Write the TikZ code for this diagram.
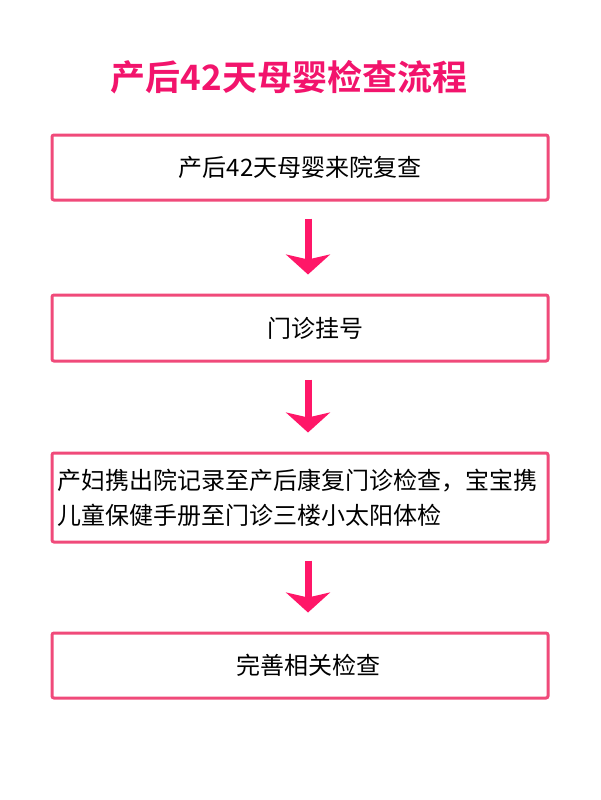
\documentclass[tikz,border=0pt]{standalone}
\usepackage{fontspec}
\setmainfont{Noto Sans CJK SC}
\newfontfamily\cjkbold{Noto Sans CJK SC Bold}
\usetikzlibrary{arrows.meta}
\definecolor{boxpink}{HTML}{F04A7A}
\definecolor{arrpink}{HTML}{FF1768}
\definecolor{titlepink}{HTML}{F2146C}
\begin{document}
\begin{tikzpicture}[x=1pt,y=-1pt,
  stepbox/.style={draw=boxpink,line width=3pt,rounded corners=2pt,minimum width=496pt,inner sep=0pt,font=\fontsize{24}{35}\selectfont,text=black},
  flowarrow/.style={draw=arrpink,line width=7pt,-{Stealth[length=20pt,width=44pt,inset=5pt]},shorten <=17pt,shorten >=19pt}]
\useasboundingbox (0,0) rectangle (600,800);
\node[text=titlepink,font=\cjkbold\fontsize{35}{40}\selectfont] (title) at (289,77) {产后42天母婴检查流程};
\node[stepbox,minimum height=65pt] (b1) at (300,167.5) {产后42天母婴来院复查};
\node[stepbox,minimum height=66pt] (b2) at (300,328) {\hspace*{30pt}门诊挂号};
\node[stepbox,minimum height=89pt,align=left,text width=486pt] (b3) at (300,497.5) {产妇携出院记录至产后康复门诊检查，宝宝携\\儿童保健手册至门诊三楼小太阳体检};
\node[stepbox,minimum height=65pt] (b4) at (300,665.5) {\hspace*{16pt}完善相关检查};
\foreach \a/\b in {b1/b2,b2/b3,b3/b4}
  \draw[flowarrow] ([xshift=8pt]\a.south) -- ([xshift=8pt]\b.north);
\end{tikzpicture}
\end{document}
